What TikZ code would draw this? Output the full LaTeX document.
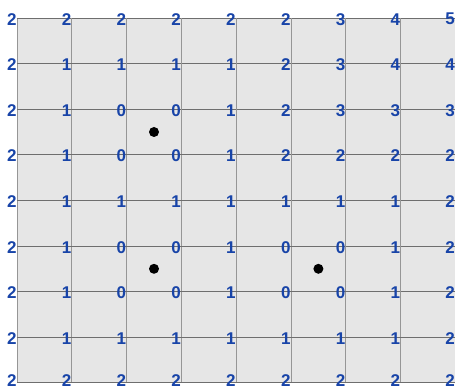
\documentclass[tikz,border=0pt]{standalone}
\usepackage{fontspec}
\setmainfont{Liberation Sans}
\usetikzlibrary{positioning}
\definecolor{numblue}{RGB}{24,68,168}
\definecolor{cellgray}{RGB}{230,230,230}
\definecolor{vgray}{RGB}{150,150,150}
\definecolor{hgray}{RGB}{110,110,110}

\begin{document}
\begin{tikzpicture}[x=54.8pt, y=-45.6pt,
    num/.style={anchor=east, inner sep=0.3pt, yshift=-1.2pt, text=numblue, font=\bfseries\fontsize{17}{17}\selectfont},
    dot/.style={circle, fill=black, inner sep=0pt, minimum size=10pt},
    hline/.style={hgray, line width=0.8pt},
    vline/.style={vgray, line width=0.8pt}]
\useasboundingbox (-17pt,18pt) rectangle (438pt,-372pt);

\fill[cellgray] (0,0) rectangle (8,8);
\foreach \k in {0,...,8} {
    \draw[vline] (\k,0) -- (\k,8);
    \draw[hline] (0,\k) -- (8,\k);
}

% distance values at the grid points
\foreach \row [count=\j from 0] in {{2,2,2,2,2,2,3,4,5},{2,1,1,1,1,2,3,4,4},{2,1,0,0,1,2,3,3,3},
    {2,1,0,0,1,2,2,2,2},{2,1,1,1,1,1,1,1,2},{2,1,0,0,1,0,0,1,2},{2,1,0,0,1,0,0,1,2},
    {2,1,1,1,1,1,1,1,2},{2,2,2,2,2,2,2,2,2}} {
    \foreach \v [count=\i from 0] in \row
        \node[num, yshift={(\j==8)*3pt}] (n-\i-\j) at (\i,\j) {\v};
}

\node[dot] (p1) at (2.5,2.5) {};
\node[dot] (p2) at (2.5,5.5) {};
\node[dot] (p3) at (5.5,5.5) {};
\end{tikzpicture}
\end{document}
